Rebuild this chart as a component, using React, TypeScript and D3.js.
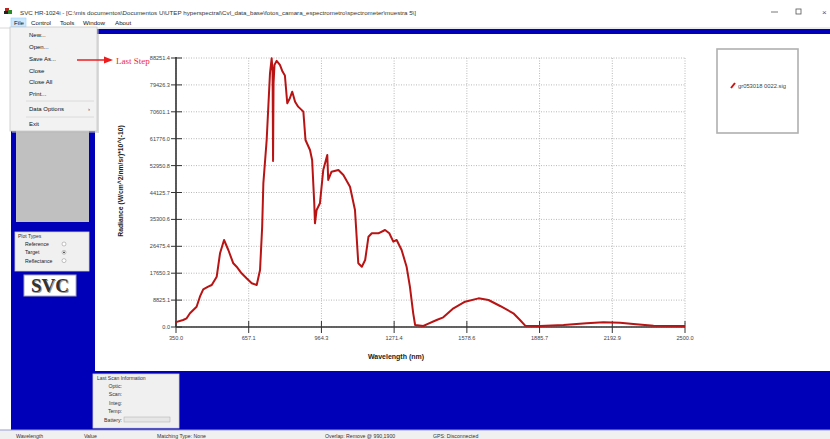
import React from "react";
import * as d3 from "d3";

// spectrum (nm, radiance)
const wavelengths = [
  350, 380, 395, 409, 437, 451, 465, 486, 501, 522, 536, 553, 571, 592, 606, 627, 648, 670, 691,
  705, 714, 719, 733, 747, 754, 758, 760, 762, 766, 775, 789, 800, 810, 820, 831, 841, 853, 866,
  888, 897, 916, 925, 934, 937, 944, 958, 972, 989, 993, 1007, 1036, 1057, 1085, 1106, 1120, 1135,
  1149, 1163, 1177, 1205, 1233, 1251, 1268, 1282, 1303, 1324, 1338, 1352, 1360, 1395, 1409, 1451,
  1479, 1522, 1571, 1628, 1670, 1719, 1775, 1803, 1825, 1888, 1987, 2028, 2084, 2155, 2226, 2282,
  2367, 2500,
];
const radiance = [
  1600, 2300, 2850, 4500, 6660, 9940, 12370, 13220, 13780, 16500, 24180, 28540, 25260, 20900, 19780,
  17620, 15980, 14340, 13780, 18700, 32900, 47150, 61350, 83240, 88150, 84000, 54500, 80000, 86000,
  87300, 86000, 83800, 82500, 73400, 75040, 77200, 73930, 72290, 70650, 61350, 58070, 54790, 40580,
  34020, 38390, 40580, 51500, 56430, 48230, 50960, 51500, 49870, 46030, 38390, 20900, 19780, 21980,
  29630, 30740, 30740, 31820, 30740, 27990, 28540, 25260, 19780, 13220, 4490, 660, 330, 880, 2300,
  3180, 6130, 8310, 9400, 8860, 6890, 4490, 2300, 440, 330, 660, 880, 1210, 1540, 1430, 990, 440,
  330,
];

const xTicks = [350.0, 657.1, 964.3, 1271.4, 1578.6, 1885.7, 2192.9, 2500.0];
const yTicks = [0.0, 8825.1, 17650.3, 26475.4, 35300.6, 44125.7, 52950.8, 61776.0, 70601.1, 79426.3, 88251.4];

const menuBar = ["File", "Control", "Tools", "Window", "About"];
const menuBarX = [14, 31, 60, 83, 115];
const fileMenu = ["New...", "Open...", "Save As...", "Close", "Close All", "Print...", "-", "Data Options", "-", "Exit"];
const fileMenuY = [35, 47, 59, 70.5, 82, 93.5, 101, 108.5, 117, 124];
const plotTypes = ["Reference", "Target", "Reflectance"];
const scanInfo = ["Optic:", "Scan:", "Integ:", "Temp:"];
const statusFields = ["Wavelength", "Value", "Matching Type: None", "Overlap: Remove @ 990,1900", "GPS: Disconnected"];
const statusX = [16, 84, 157, 325, 433];

const BLUE = "#0000b8";
const UI = "'Liberation Sans', Arial, sans-serif";
const TITLE =
  "SVC HR-1024i  -  [C:\\mis documentos\\Documentos U\\UTEP hyperspectral\\Cvl_data_base\\fotos_camara_espectrometro\\spectrometer\\muestra 5\\]";

export default function App() {
  const x = d3.scaleLinear().domain([350, 2500]).range([176, 685]);
  const y = d3.scaleLinear().domain([0, 88251.4]).range([327, 58]);
  const pts: [number, number][] = wavelengths.map((w, i) => [w, radiance[i]]);
  const line = d3
    .line<[number, number]>()
    .x((d) => x(d[0]))
    .y((d) => y(d[1]));

  return (
    <svg
      width={830}
      height={439}
      style={{ position: "absolute", left: 0, top: 0, background: "#fff" }}
      fontFamily={UI}
    >
      {/* title bar */}
      <rect x={0} y={0} width={830} height={28} fill="#fff" />
      <rect x={5} y={8} width={4} height={4} fill="#c02020" />
      <rect x={8} y={10} width={4} height={4} fill="#2a8a2a" />
      <rect x={4} y={11} width={4} height={3} fill="#222" />
      <text x={20} y={14.5} fontSize={6.2} fill="#333">{TITLE}</text>
      <line x1={771} x2={778} y1={12} y2={12} stroke="#555" strokeWidth={0.8} />
      <rect x={796} y={9} width={5} height={5} fill="none" stroke="#555" strokeWidth={0.8} />
      <text x={822} y={14.5} fontSize={8} fill="#555">×</text>

      {/* menu bar */}
      <rect x={11} y={18} width={15} height={9} fill="#cce8ff" stroke="#99d1ff" strokeWidth={0.6} />
      {menuBar.map((m, i) => (
        <text key={m} x={menuBarX[i]} y={25} fontSize={6.2} fill="#111">{m}</text>
      ))}
      <line x1={0} x2={830} y1={28} y2={28} stroke="#d8d8d8" strokeWidth={1} />

      {/* blue frame */}
      <rect x={11} y={29} width={819} height={401} fill={BLUE} />
      <rect x={95} y={34} width={735} height={337} fill="#fff" />
      <rect x={16} y={34} width={73} height={188} fill="#c0c0c0" />

      {/* plot types */}
      <rect x={15} y={232} width={74} height={39} fill="#f0f0f0" stroke="#d0d0d0" strokeWidth={0.8} />
      <text x={18} y={238} fontSize={5} fill="#333">Plot Types</text>
      {plotTypes.map((p, i) => (
        <g key={p}>
          <text x={25} y={246 + i * 8.3} fontSize={5.2} fill="#222">{p}</text>
          <circle cx={64} cy={244 + i * 8.3} r={2} fill="#fff" stroke="#888" strokeWidth={0.5} />
          {p === "Target" && <circle cx={64} cy={244 + i * 8.3} r={0.9} fill="#333" />}
        </g>
      ))}

      {/* SVC logo */}
      <rect x={24} y={275} width={52} height={21} fill="#fff" stroke="#aaa" strokeWidth={1} />
      <text x={51} y={293} fontSize={19} fontFamily="'Liberation Serif', serif" fontWeight="bold" textAnchor="middle" fill="#999">SVC</text>
      <text x={50} y={292} fontSize={19} fontFamily="'Liberation Serif', serif" fontWeight="bold" textAnchor="middle" fill="#333">SVC</text>

      {/* last scan info */}
      <rect x={93} y={374} width={86} height={54} fill="#f0f0f0" stroke="#d0d0d0" strokeWidth={0.8} />
      <text x={97} y={380} fontSize={5} fill="#333">Last Scan Information</text>
      {scanInfo.map((s, i) => (
        <text key={s} x={122} y={388 + i * 8.4} fontSize={5.2} fill="#333" textAnchor="end">{s}</text>
      ))}
      <text x={122} y={421.5} fontSize={5.2} fill="#333" textAnchor="end">Battery:</text>
      <rect x={124} y={417} width={46} height={5} fill="#e6e6e6" stroke="#aaa" strokeWidth={0.5} />

      {/* status bar */}
      <rect x={0} y={430} width={830} height={9} fill="#f0f0f0" />
      <line x1={0} x2={830} y1={430} y2={430} stroke="#9a9ad8" strokeWidth={1} />
      {statusFields.map((s, i) => (
        <text key={s} x={statusX[i]} y={437.5} fontSize={5.2} fill="#333">{s}</text>
      ))}

      {/* grid */}
      {yTicks.map((t) => (
        <line key={"gy" + t} x1={176} x2={685} y1={y(t)} y2={y(t)} stroke="#b8b8b8" strokeWidth={1} strokeDasharray="1,1.5" />
      ))}
      {xTicks.map((t) => (
        <line key={"gx" + t} x1={x(t)} x2={x(t)} y1={58} y2={327} stroke="#b8b8b8" strokeWidth={1} strokeDasharray="1,1.5" />
      ))}

      {/* axes */}
      <line x1={176} x2={176} y1={57} y2={327} stroke="#333" strokeWidth={1.6} />
      <line x1={176} x2={685} y1={327} y2={327} stroke="#333" strokeWidth={1.6} />
      {yTicks.map((t) => (
        <g key={"ty" + t}>
          <line x1={171} x2={182} y1={y(t)} y2={y(t)} stroke="#333" strokeWidth={1} />
          <text x={170} y={y(t) + 2} fontSize={5.6} textAnchor="end" fill="#444">{t.toFixed(1)}</text>
        </g>
      ))}
      {xTicks.map((t) => (
        <g key={"tx" + t}>
          <line x1={x(t)} x2={x(t)} y1={321} y2={333} stroke="#333" strokeWidth={1} />
          <text x={x(t)} y={340} fontSize={5.6} textAnchor="middle" fill="#444">{t.toFixed(1)}</text>
        </g>
      ))}
      <text x={396} y={359} fontSize={7} fontWeight="bold" textAnchor="middle" fill="#222">Wavelength (nm)</text>
      <text
        transform="translate(123,181) rotate(-90)"
        fontSize={6.8}
        fontWeight="bold"
        textAnchor="middle"
        fill="#222"
      >
        Radiance (W/cm^2/nm/sr)*10^(-10)
      </text>

      {/* spectrum */}
      <path d={line(pts) ?? ""} fill="none" stroke="#b81414" strokeWidth={2} strokeLinejoin="round" />

      {/* legend */}
      <rect x={717} y={49} width={81} height={84} fill="#fff" stroke="#b0b0b0" strokeWidth={1.6} />
      <line x1={731} x2={735} y1={88} y2={83} stroke="#d01010" strokeWidth={2} />
      <text x={738} y={88} fontSize={5.8} fill="#444">gr053018 0022.sig</text>

      {/* open File menu */}
      <rect x={12} y={29} width={87} height={104} fill="#b8b8b8" opacity={0.5} />
      <rect x={10} y={27} width={87} height={104} fill="#f2f2f2" stroke="#c8c8c8" strokeWidth={0.8} />
      {fileMenu.map((m, i) =>
        m === "-" ? (
          <line key={i} x1={26} x2={94} y1={fileMenuY[i]} y2={fileMenuY[i]} stroke="#d6d6d6" strokeWidth={0.8} />
        ) : (
          <g key={i}>
            <text x={29} y={fileMenuY[i] + 2} fontSize={6} fill="#111">{m}</text>
            {m === "Data Options" && (
              <text x={88} y={fileMenuY[i] + 2} fontSize={6} fill="#444">›</text>
            )}
          </g>
        )
      )}

      {/* annotation */}
      <line x1={77} x2={106} y1={60} y2={60} stroke="#ee1c1c" strokeWidth={1.5} />
      <path d="M104,56.5 L113,60 L104,63.5 Z" fill="#ee1c1c" />
      <text x={116} y={64} fontSize={9} fontFamily="'Liberation Serif', serif" fill="#ee2a2a">Last Step</text>
    </svg>
  );
}
